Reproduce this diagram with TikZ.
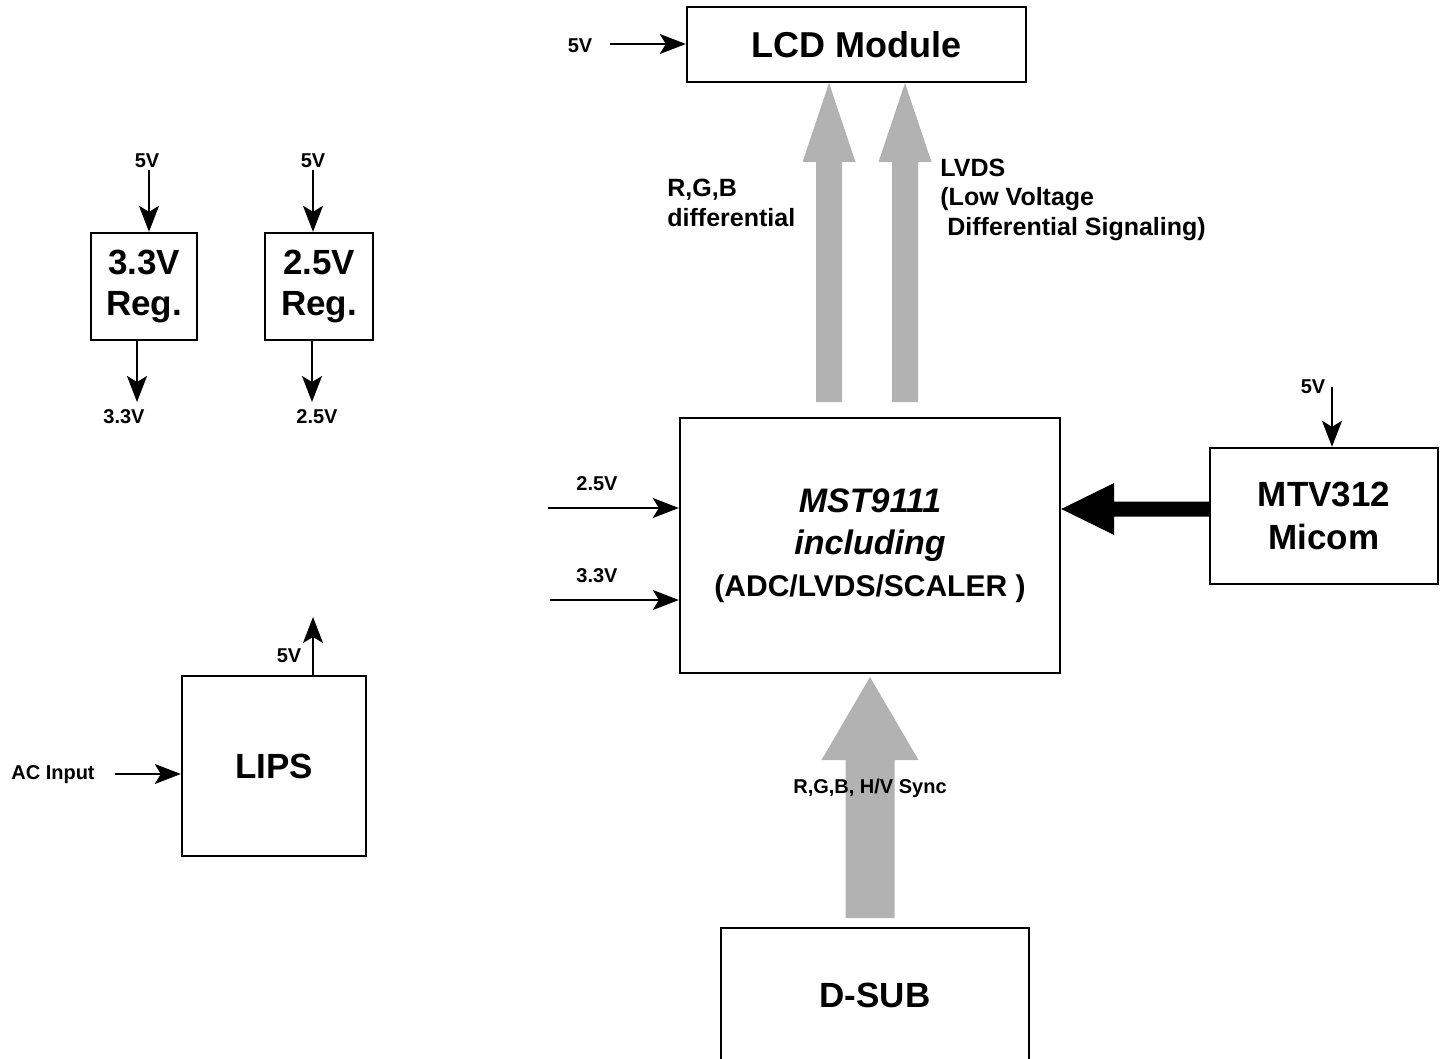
\documentclass[tikz,border=0pt]{standalone}
\usepackage{fontspec}
\setmainfont{Liberation Sans}
\usetikzlibrary{calc}
\usetikzlibrary{arrows.meta}

\tikzset{
  blk/.style={draw, line width=1.2pt, align=center, inner sep=0pt, font=\bfseries\fontsize{17.5}{20.5}\selectfont},
  pin/.style={line width=1pt, -{Stealth[length=13pt, width=10pt, inset=3pt]}},
  lbl/.style={inner sep=0pt, font=\bfseries\fontsize{10}{12}\selectfont},
  sigtext/.style={inner sep=0pt, align=left, font=\bfseries\fontsize{12.5}{14.75}\selectfont},
  sigfill/.style={fill=black!30},
}

\newcommand{\fatarrow}[6]{%
  \coordinate (fa-b) at ($(#3)!#6!(#2)$);
  \fill[#1] ($(#2)!#4!90:(#3)$) -- ($(fa-b)!#4!90:(#3)$) -- ($(fa-b)!#5!90:(#3)$) -- (#3)
    -- ($(fa-b)!#5!-90:(#3)$) -- ($(fa-b)!#4!-90:(#3)$) -- ($(#2)!#4!-90:(#3)$) -- cycle;}

\begin{document}
\begin{tikzpicture}[x=0.5pt, y=-0.5pt]
\useasboundingbox (0,0) rectangle (1440,1059);

\node[blk, minimum width=169.5pt, minimum height=37.5pt, font=\bfseries\fontsize{18}{21}\selectfont] (lcd) at (856.5,44.5) {LCD Module};
\node[blk, minimum width=53pt, minimum height=53.5pt] (reg33) at (144,286.5) {3.3V\\Reg.};
\node[blk, minimum width=54pt, minimum height=53.5pt] (reg25) at (319,286.5) {2.5V\\Reg.};
\node[blk, minimum width=92pt, minimum height=90pt] (lips) at (274,766) {LIPS};
\node[blk, minimum width=190pt, minimum height=127.5pt, font=\bfseries\fontsize{17}{21}\selectfont] (mst) at (870,545.5)
  {{\itshape MST9111}\\{\itshape including}\\{\fontsize{15}{21}\selectfont (ADC/LVDS/SCALER )}};
\node[blk, minimum width=114pt, minimum height=68pt, font=\bfseries\fontsize{17.5}{21.5}\selectfont] (micom) at (1324,516) {MTV312\\Micom};
\node[blk, minimum width=154pt, minimum height=67pt] (dsub) at (875,995) {D-SUB};

\node[lbl] (v5lcd) at (580,46) {5V};
\coordinate (lcdin) at (610,44);
\draw[pin] (lcdin) -- (lcdin -| lcd.west);

\node[lbl] (v5a) at (147,161) {5V};
\coordinate (in33) at (149,170);
\draw[pin] (in33) -- (in33 |- reg33.north);
\coordinate (out33) at (137,402);
\draw[pin] (out33 |- reg33.south) -- (out33);
\node[lbl] (v33) at (124,417) {3.3V};

\node[lbl] (v5b) at (313,161) {5V};
\coordinate (in25) at (313,170);
\draw[pin] (in25) -- (in25 |- reg25.north);
\coordinate (out25) at (312,402);
\draw[pin] (out25 |- reg25.south) -- (out25);
\node[lbl] (v25) at (317,417) {2.5V};

\coordinate (lipsout) at (313,617);
\draw[pin] (lipsout |- lips.north) -- (lipsout);
\node[lbl] (v5c) at (289,656) {5V};
\node[lbl] (acin) at (53,775) {AC Input};
\coordinate (acs) at (115,774);
\draw[pin] (acs) -- (acs -| lips.west);

\node[lbl] (v25in) at (597,484) {2.5V};
\coordinate (mst25) at (548,508);
\draw[pin] (mst25) -- (mst25 -| mst.west);
\node[lbl] (v33in) at (597,576) {3.3V};
\coordinate (mst33) at (550,600);
\draw[pin] (mst33) -- (mst33 -| mst.west);

\node[lbl] (v5d) at (1313,387) {5V};
\coordinate (mic5) at (1332,387);
\draw[pin] (mic5) -- (mic5 |- micom.north);

\coordinate (rgbtop) at (829,83);
\coordinate (rgbbot) at (829,402);
\coordinate (lvdstop) at (905,83);
\coordinate (lvdsbot) at (905,402);
\coordinate (synctop) at (870,677);
\coordinate (syncbot) at (870,918);
\coordinate (ctl) at (0,509);
\coordinate (ctls) at (micom.west |- ctl);
\coordinate (ctle) at (mst.east |- ctl);
\fatarrow{sigfill}{rgbbot}{rgbtop}{6.5pt}{13.25pt}{39.5pt}
\fatarrow{sigfill}{lvdsbot}{lvdstop}{6.5pt}{13.25pt}{39.5pt}
\fatarrow{sigfill}{syncbot}{synctop}{12.25pt}{24.25pt}{41.5pt}
\fatarrow{fill=black}{ctls}{ctle}{3.75pt}{13pt}{26.5pt}

\node[sigtext, anchor=west] (rgbtxt) at (667,203) {R,G,B\\differential};
\node[sigtext, anchor=west] (lvdstxt) at (940,199.5) {LVDS\\(Low Voltage\\\hspace*{3.5pt}Differential Signaling)};
\node[lbl] (synctxt) at (870,788) {R,G,B, H/V Sync};
\end{tikzpicture}
\end{document}
